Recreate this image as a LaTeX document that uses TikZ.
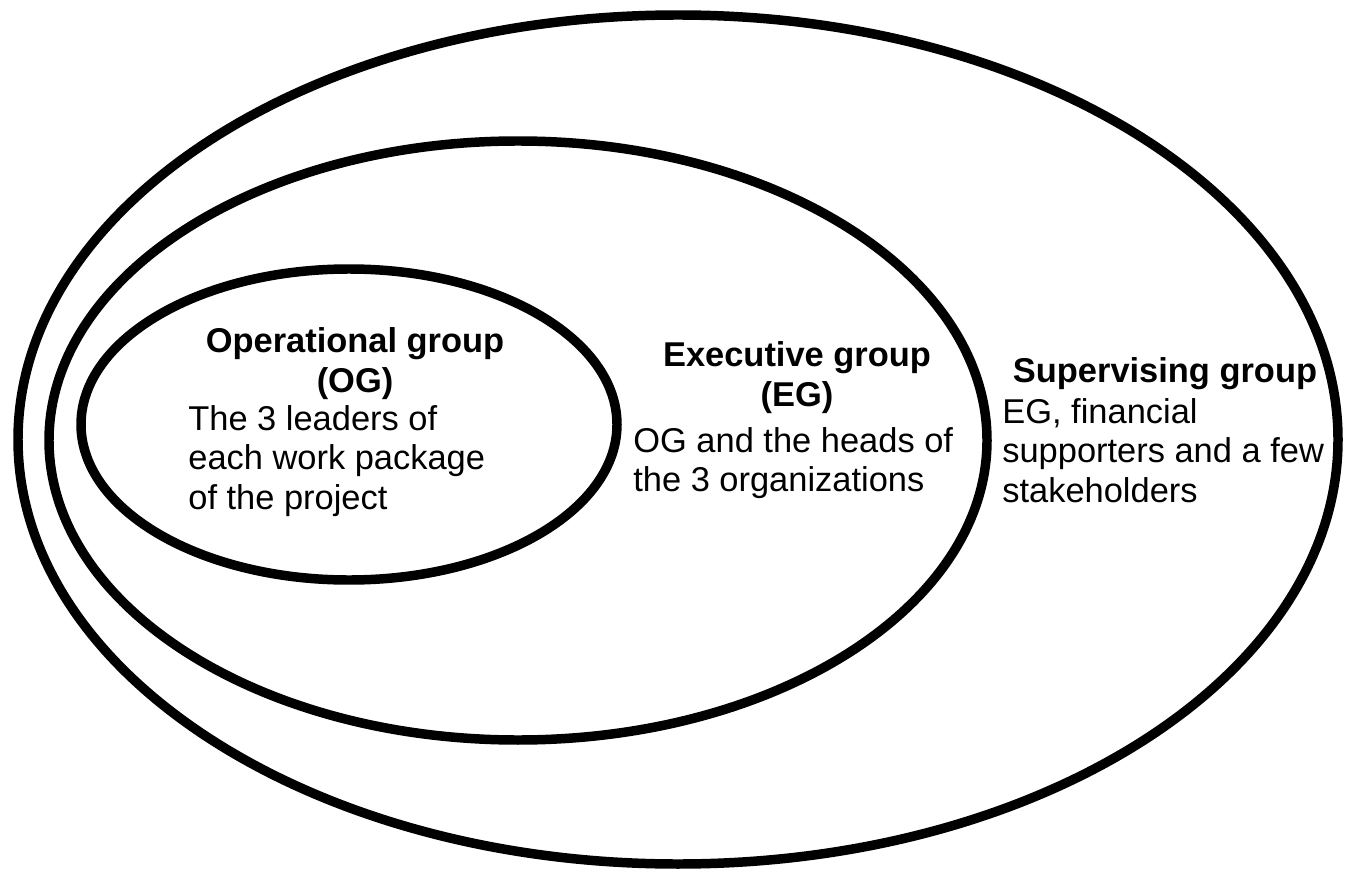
\documentclass[tikz,border=0pt]{standalone}
\usepackage{fontspec}
\setmainfont{Liberation Sans}
\usepackage{xcolor}

\tikzset{
  groupline/.style={line width=5.4pt},
  grouptitle/.style={font=\fontsize{19.6}{22.5}\selectfont\bfseries, align=center, inner sep=0pt, anchor=north},
  grouptext/.style={font=\fontsize{19.6}{22.5}\selectfont, align=left, inner sep=0pt, anchor=north west}
}

\begin{document}
\begin{tikzpicture}[x=0.02cm, y=0.02cm]
			\useasboundingbox (0,0) rectangle (1348,870);

			% Nested groups
			\draw[groupline] (678,430.5) ellipse [x radius=660, y radius=424.5]; % supervising
			\draw[groupline] (518,429.5) ellipse [x radius=469, y radius=299.5]; % executive
			\draw[groupline] (349,445.5) ellipse [x radius=268, y radius=155.5]; % operational

			% Operational group
			\node[grouptitle] (ogtitle) at (355,542.5) {Operational group\\(OG)};
			\node[grouptext] (ogtext) at (188,465.3) {The 3 leaders of\\each work package\\of the project};

			% Executive group
			\node[grouptitle] (egtitle) at (797,528.5) {Executive group\\(EG)};
			\node[grouptext] (egtext) at (633,443.3) {OG and the heads of\\the 3 organizations};

			% Supervising group
			\node[grouptitle] (sgtitle) at (1165,512.5) {Supervising group};
			\node[grouptext] (sgtext) at (1002,472.3) {EG, financial\\supporters and a few\\stakeholders};
\end{tikzpicture}
\end{document}
